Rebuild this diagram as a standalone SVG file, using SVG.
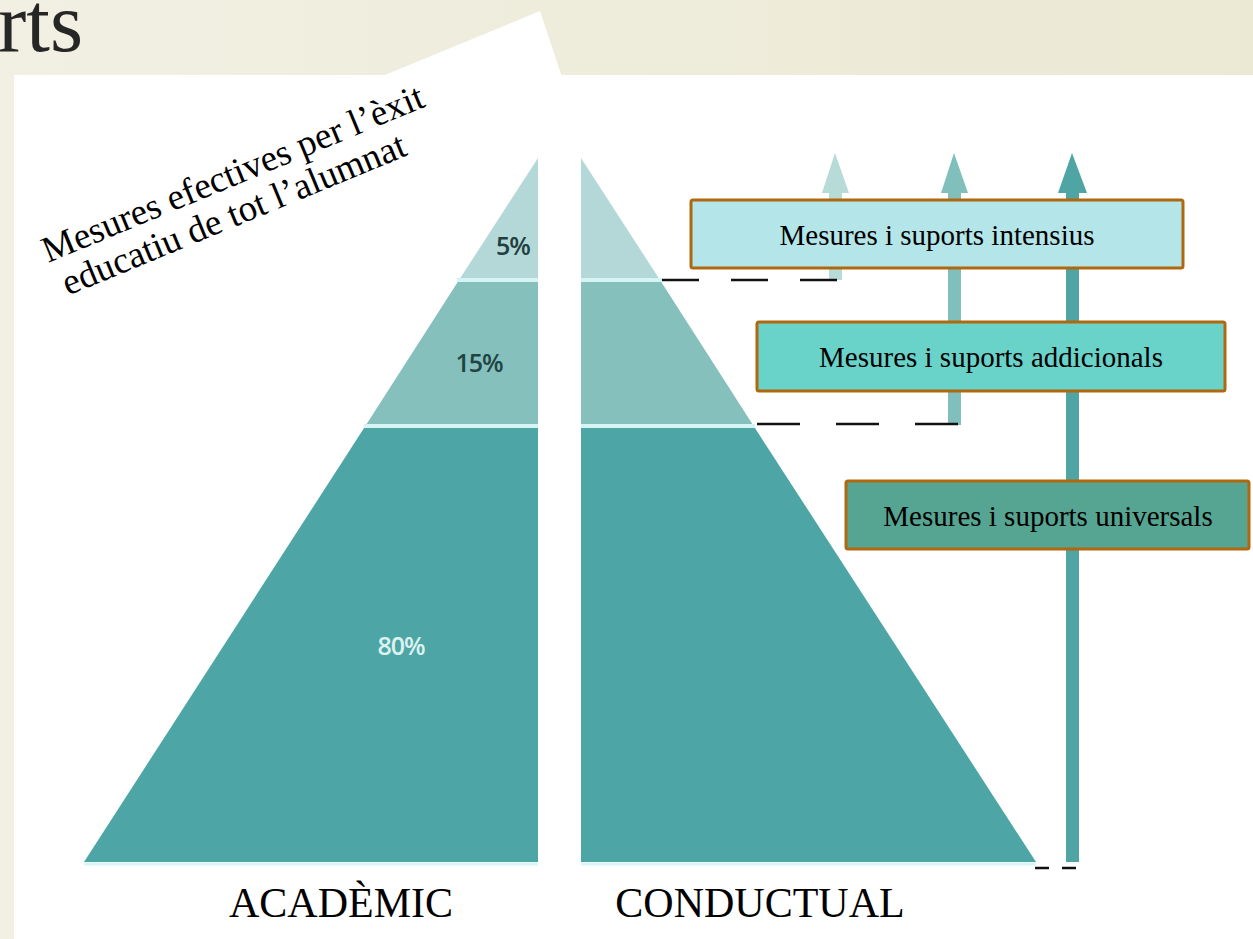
<svg xmlns="http://www.w3.org/2000/svg" width="1253" height="939" viewBox="0 0 1253 939">
  <defs>
    <linearGradient id="bg" x1="0" y1="0" x2="1" y2="0">
      <stop offset="0" stop-color="#f1f0e3"/>
      <stop offset="1" stop-color="#ebe8d3"/>
    </linearGradient>
    <style>
      .serif { font-family: "Liberation Serif", "Times New Roman", serif; fill: #000; }
      .pct { font-family: "Open Sans", "DejaVu Sans", sans-serif; font-weight: 600; font-size: 25px; text-anchor: middle; letter-spacing: -1px; }
      .box { stroke: #b0680f; stroke-width: 3; }
      .boxtxt { font-family: "Liberation Serif", "Times New Roman", serif; font-size: 29px; text-anchor: middle; fill: #000; }
      .sep { stroke: #d6f4f3; stroke-width: 4; }
      .dash { stroke: #111; stroke-width: 2.5; fill: none; }
    </style>
  </defs>

  <!-- background -->
  <rect x="0" y="0" width="1253" height="939" fill="url(#bg)"/>
  <text x="-2" y="51" class="serif" font-size="85" style="fill:#262626">rts</text>

  <!-- rotated white card and main white panel -->
  <polygon points="300,110 540,11 563,80 300,80" fill="#ffffff"/>
  <rect x="14" y="75" width="1239" height="864" fill="#ffffff"/>

  <!-- rotated title -->
  <g id="title" transform="translate(48,263) rotate(-22.5)">
    <text x="0" y="0" class="serif" font-size="37">Mesures efectives per l’èxit</text>
    <text x="6" y="38" class="serif" font-size="37">educatiu de tot l’alumnat</text>
  </g>

  <!-- left pyramid: ACADÈMIC -->
  <g id="pyramid-academic">
    <polygon points="538,158 538,280 459,280" fill="#b4d8d7"/>
    <polygon points="459,280 538,280 538,425 366,425" fill="#86c0bd"/>
    <polygon points="366,425 538,425 538,862 84,862" fill="#4da6a5"/>
    <line x1="457" y1="280" x2="538" y2="280" class="sep"/>
    <line x1="364" y1="426" x2="538" y2="426" class="sep"/>
    <line x1="84" y1="864" x2="538" y2="864" stroke="#d8f6f6" stroke-width="3"/>
    <text x="513" y="255" class="pct" fill="#1f4040">5%</text>
    <text x="479" y="372" class="pct" fill="#1f4444">15%</text>
    <text x="401" y="655" class="pct" fill="#dcf2f0">80%</text>
  </g>

  <!-- right pyramid: CONDUCTUAL -->
  <g id="pyramid-conductual">
    <polygon points="581,158 581,280 660,280" fill="#b4d8d7"/>
    <polygon points="581,280 660,280 753,425 581,425" fill="#86c0bd"/>
    <polygon points="581,425 753,425 1036,862 581,862" fill="#4da6a5"/>
    <line x1="581" y1="280" x2="662" y2="280" class="sep"/>
    <line x1="581" y1="426" x2="755" y2="426" class="sep"/>
    <line x1="581" y1="864" x2="1036" y2="864" stroke="#d8f6f6" stroke-width="3"/>
  </g>

  <!-- connectors: arrows and dashed levels -->
  <g id="connectors">
    <rect x="829" y="190" width="13" height="90" fill="#b7dbd7"/>
    <polygon points="835,153 822,193 849,193" fill="#b7dbd7"/>
    <rect x="948" y="190" width="13" height="235" fill="#80bfbc"/>
    <polygon points="954,153 941,193 968,193" fill="#80bfbc"/>
    <rect x="1066" y="190" width="13" height="672" fill="#4fa5a3"/>
    <polygon points="1072,153 1058,193 1087,193" fill="#4fa5a3"/>
    <line x1="662" y1="280" x2="837" y2="280" class="dash" stroke-dasharray="37 32"/>
    <line x1="757" y1="424" x2="958" y2="424" class="dash" stroke-dasharray="43 36"/>
    <line x1="1035" y1="868" x2="1076" y2="868" class="dash" stroke-dasharray="14 13"/>
  </g>

  <!-- boxes -->
  <g id="box-intensius">
    <rect x="691" y="200" width="492" height="68" rx="2" fill="#b3e5e9" class="box"/>
    <text x="937" y="245" class="boxtxt">Mesures i suports intensius</text>
  </g>
  <g id="box-addicionals">
    <rect x="757" y="322" width="468" height="69" rx="2" fill="#69d3ca" class="box"/>
    <text x="991" y="367" class="boxtxt">Mesures i suports addicionals</text>
  </g>
  <g id="box-universals">
    <rect x="846" y="481" width="403" height="68" rx="2" fill="#56a593" class="box"/>
    <text x="1048" y="526" class="boxtxt">Mesures i suports universals</text>
  </g>

  <!-- bottom labels -->
  <g id="label-academic">
    <text x="341" y="917" class="serif" font-size="42" text-anchor="middle">ACADÈMIC</text>
  </g>
  <g id="label-conductual">
    <text x="760" y="917" class="serif" font-size="42" text-anchor="middle">CONDUCTUAL</text>
  </g>
</svg>
